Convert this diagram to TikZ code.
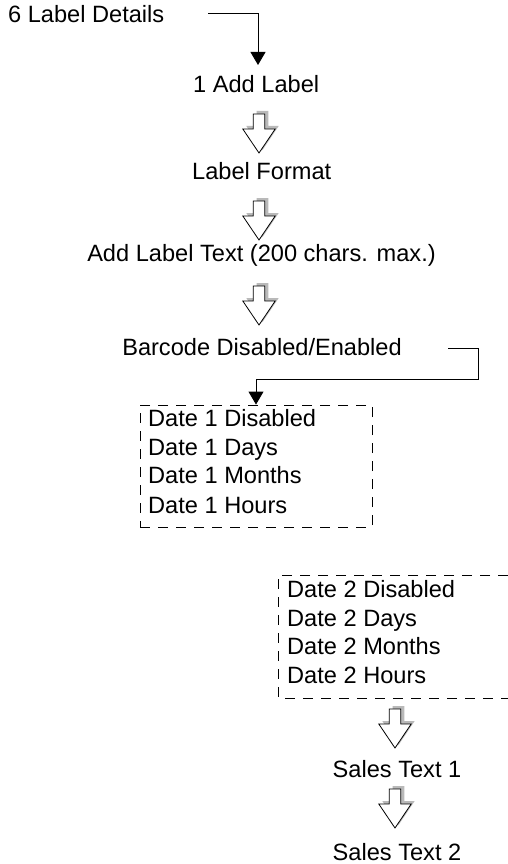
\documentclass[tikz,border=0pt]{standalone}
\usepackage{fontspec}
\setmainfont{Liberation Sans}
\usetikzlibrary{arrows.meta}
\begin{document}
\begin{tikzpicture}[x=1pt,y=-1pt,
  lbl/.style={inner sep=0pt,anchor=base west,font=\fontsize{23.6}{28}\selectfont},
  lblc/.style={inner sep=0pt,anchor=base,font=\fontsize{23.6}{28}\selectfont},
  conn/.style={line width=0.9pt,-{Triangle[width=15pt,length=13pt]}},
  dashbox/.style={draw,line width=0.9pt,dash pattern=on 10pt off 8pt},
  blockarrow/.pic={
    \fill[gray!55] (-5.8+3.5,-3) -- (5.8+3.5,-3) -- (5.8+3.5,12) -- (16.2+3.5,12) -- (0+3.5,36) -- (-16.2+3.5,12) -- (-5.8+3.5,12) -- cycle;
    \draw[fill=white,line width=0.8pt,line join=miter] (-5.8,0) -- (5.8,0) -- (5.8,15) -- (16.2,15) -- (0,39) -- (-16.2,15) -- (-5.8,15) -- cycle;
  }]
\useasboundingbox[fill=white] (0,0) rectangle (508,864);

% top labels
\node[lbl] (ld) at (8,23) {6 Label Details};
\node[lbl] (add) at (193,93) {1 Add Label};
\node[lbl] (fmt) at (192,179) {Label Format};
\node[lblc] (txt) at (261.5,261) {Add Label Text (200 chars. max.)};
\node[lblc] (bar) at (262,355) {Barcode Disabled/Enabled};

% connector 1
\coordinate (c1s) at (208,13);
\coordinate (c1e) at (258,65);
\draw[conn] (c1s) -| (c1e);

% block arrows
\pic at (259,114) {blockarrow};
\pic at (259,201) {blockarrow};
\pic at (259,286) {blockarrow};

% box 1
\node[dashbox,minimum width=232pt,minimum height=122pt,inner sep=0pt] (box1) at (256,466) {};
\node[lbl] (d1a) at (148,426) {Date 1 Disabled};
\node[lbl] (d1b) at (148,455) {Date 1 Days};
\node[lbl] (d1c) at (148,483) {Date 1 Months};
\node[lbl] (d1d) at (148,513) {Date 1 Hours};

% connector 2
\coordinate (c2s) at (448,348);
\draw[conn] (c2s) -- (478,348) -- (478,379) -| (box1.north);

% box 2 (right side beyond picture edge)
\draw[dashbox] (508,575) -- (278,575) -- (278,698) -- (508,698);
\node[lbl] (d2a) at (287,597) {Date 2 Disabled};
\node[lbl] (d2b) at (287,626) {Date 2 Days};
\node[lbl] (d2c) at (287,654) {Date 2 Months};
\node[lbl] (d2d) at (287,683) {Date 2 Hours};

% sales text
\pic at (395,709) {blockarrow};
\node[lblc] (s1) at (397,777) {Sales Text 1};
\pic at (395,789) {blockarrow};
\node[lblc] (s2) at (397,860) {Sales Text 2};
\end{tikzpicture}
\end{document}
